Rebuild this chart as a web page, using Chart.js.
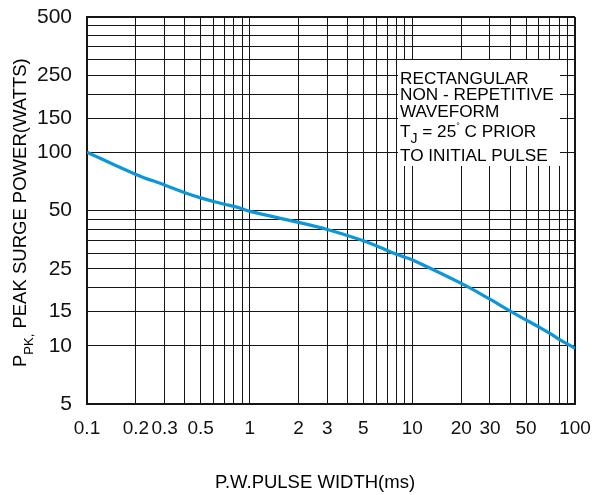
<!DOCTYPE html>
<html>
<head>
<meta charset="utf-8">
<title>Peak surge power vs pulse width</title>
<script src="https://cdn.jsdelivr.net/npm/chart.js@4.4.1/dist/chart.umd.min.js"></script>
<style>
  html, body { margin: 0; padding: 0; background: #ffffff; }
  #wrap { width: 597px; height: 495px; }
</style>
</head>
<body>
<div id="wrap"><canvas id="surge-chart" width="597" height="495"></canvas></div>
<script>
'use strict';

// pulse width (ms) and peak surge power (W)
const pulseWidths = [0.1, 0.2, 0.3, 0.4, 0.5, 0.6, 0.7, 0.8, 0.9, 1, 2, 3, 4, 5, 6, 7, 8, 9, 10, 20, 30, 40, 50, 60, 70, 80, 90, 100];
const peakPower = [100, 76.8, 67.7, 61.8, 58.1, 55.7, 53.9, 52.5, 51, 49.5, 43.4, 39.9, 37.1, 34.9, 32.9, 31.1, 29.7, 28.7, 27.8, 21, 17.4, 15.1, 13.6, 12.5, 11.6, 10.8, 10.2, 9.7];

// grid lines and which of them carry a label
const xGridTicks = [0.1, 0.2, 0.3, 0.4, 0.5, 0.6, 0.7, 0.8, 0.9, 1, 2, 3, 4, 5, 6, 7, 8, 9, 10, 20, 30, 40, 50, 60, 70, 80, 90, 100];
const xTickLabels = ['0.1', '0.2', '0.3', '0.5', '1', '2', '3', '5', '10', '20', '30', '50', '100'];
const yGridTicks = [5, 10, 15, 20, 25, 30, 35, 40, 45, 50, 100, 150, 200, 250, 300, 350, 400, 450, 500];
const yTickLabels = ['5', '10', '15', '25', '50', '100', '150', '250', '500'];

const noteLines = ['RECTANGULAR', 'NON - REPETITIVE', 'WAVEFORM', 'TJ = 25°C PRIOR', 'TO INITIAL PULSE'];

const FONT = '"Liberation Sans", Arial, Helvetica, sans-serif';

function labelFor(list) {
  return function (value) {
    const s = String(value);
    return list.indexOf(s) >= 0 ? s : '';
  };
}

function edgeWidth(lo, hi) {
  return function (ctx) {
    if (ctx.tick && (ctx.tick.value === lo || ctx.tick.value === hi)) return 2;
    return 1;
  };
}

// pieces of text with sub/superscripts: [text, size, dy]
function drawRuns(ctx, runs, x, y) {
  runs.forEach(function (r) {
    ctx.font = r[1] + 'px ' + FONT;
    ctx.fillText(r[0], x, y + r[2]);
    x += ctx.measureText(r[0]).width;
  });
}

const notePlugin = {
  id: 'notes',
  afterDraw: function (chart) {
    const ctx = chart.ctx;
    const area = chart.chartArea;
    ctx.save();
    ctx.fillStyle = '#000000';
    ctx.textBaseline = 'alphabetic';
    ctx.textAlign = 'left';

    // y axis title, rotated, with subscript
    ctx.save();
    ctx.translate(26, 367);
    ctx.rotate(-Math.PI / 2);
    drawRuns(ctx, [['P', 18.5, 0], ['PK,', 13, 7], [' PEAK SURGE POWER(WATTS)', 18.5, 0]], 0, 0);
    ctx.restore();

    // x axis title
    ctx.font = '18.5px ' + FONT;
    ctx.textAlign = 'center';
    ctx.fillText('P.W.PULSE WIDTH(ms)', (area.left + area.right) / 2 - 16, 488);
    ctx.textAlign = 'left';

    // condition box over the grid
    const bx = area.right - 177;
    const by = area.top + 43;
    ctx.fillStyle = '#ffffff';
    ctx.fillRect(bx, by, 162, 106);
    ctx.fillStyle = '#000000';
    const tx = bx + 2;
    const fs = 17.2;
    drawRuns(ctx, [[noteLines[0], fs, 0]], tx, by + 23.5);
    drawRuns(ctx, [[noteLines[1], fs, 0]], tx, by + 40);
    drawRuns(ctx, [[noteLines[2], fs, 0]], tx, by + 56.5);
    drawRuns(ctx, [['T', fs, 0], ['J', 14, 6.5], [' = 25', fs, 0], ['°', 9, -8], [' C PRIOR', fs, 0]], tx, by + 76.5);
    drawRuns(ctx, [[noteLines[4], fs, 0]], tx, by + 101);
    ctx.restore();
  },
};

Chart.defaults.font.family = FONT;
Chart.defaults.color = '#111111';

const chartData = pulseWidths.map(function (x, i) {
  return { x: x, y: peakPower[i] };
});

new Chart(document.getElementById('surge-chart'), {
  type: 'line',
  data: {
    datasets: [
      {
        label: 'Peak surge power',
        data: chartData,
        borderColor: '#0d97db',
        borderWidth: 3.2,
        pointRadius: 0,
        fill: false,
        tension: 0.4,
      },
    ],
  },
  options: {
    responsive: false,
    animation: false,
    layout: { padding: { left: 0, top: 17, right: 22, bottom: 0 } },
    plugins: {
      legend: { display: false },
      tooltip: { enabled: false },
    },
    scales: {
      x: {
        type: 'logarithmic',
        min: 0.1,
        max: 100,
        afterBuildTicks: function (scale) {
          scale.ticks = xGridTicks.map(function (v) { return { value: v }; });
        },
        afterFit: function (scale) {
          scale.height = 91;
          scale.paddingLeft = 0;
          scale.paddingRight = 0;
        },
        ticks: {
          autoSkip: false,
          maxRotation: 0,
          minRotation: 0,
          padding: 13,
          color: '#111111',
          font: { size: 19 },
          callback: labelFor(xTickLabels),
        },
        grid: {
          color: '#151515',
          lineWidth: edgeWidth(0.1, 100),
          drawTicks: false,
        },
        border: { color: '#151515', width: 2 },
      },
      y: {
        type: 'logarithmic',
        min: 5,
        max: 500,
        afterBuildTicks: function (scale) {
          scale.ticks = yGridTicks.map(function (v) { return { value: v }; });
        },
        afterFit: function (scale) {
          scale.width = 87;
          scale.paddingTop = 0;
          scale.paddingBottom = 0;
        },
        ticks: {
          autoSkip: false,
          padding: 15,
          color: '#111111',
          font: { size: 21 },
          callback: labelFor(yTickLabels),
        },
        grid: {
          color: '#151515',
          lineWidth: edgeWidth(5, 500),
          drawTicks: false,
        },
        border: { color: '#151515', width: 2 },
      },
    },
  },
  plugins: [notePlugin],
});
</script>
</body>
</html>
